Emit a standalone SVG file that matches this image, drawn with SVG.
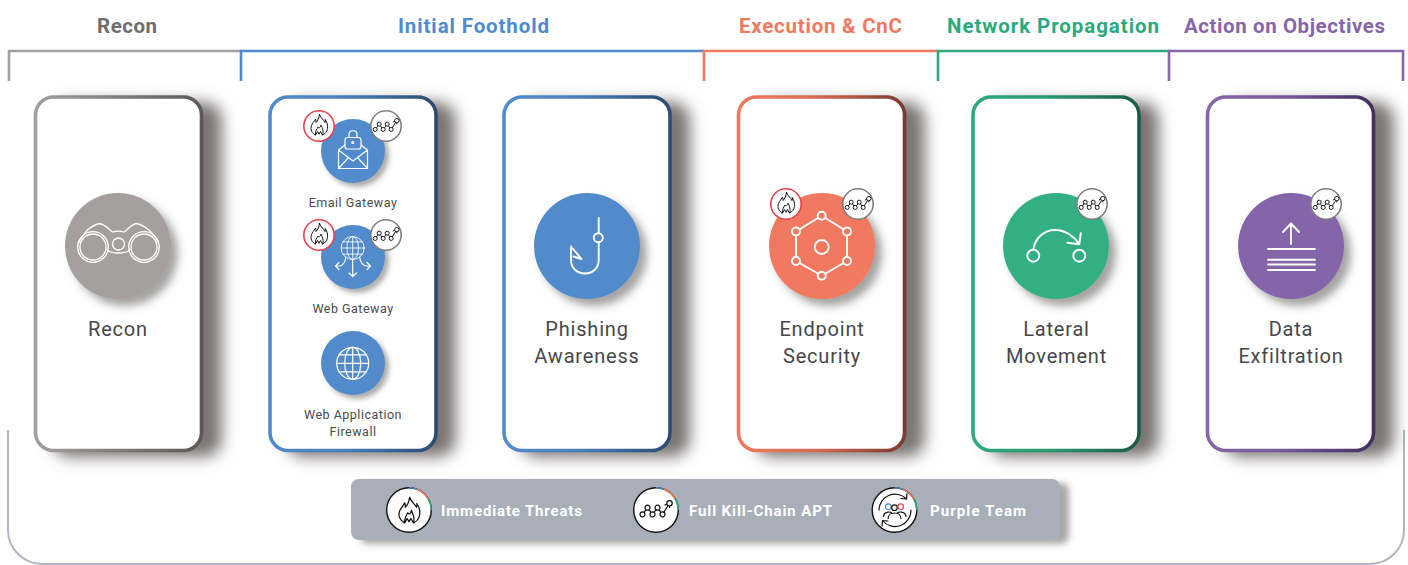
<svg xmlns="http://www.w3.org/2000/svg" width="1408" height="565" viewBox="0 0 1408 565">
<style>
text{font-family:"Roboto","Liberation Sans",sans-serif}
.h{font-size:20.5px;font-weight:700;text-anchor:middle}
.t{font-size:20px;font-weight:400;fill:#47474a;text-anchor:middle;letter-spacing:.8px}
.s{font-size:12.500px;fill:#4a4a4c;text-anchor:middle;letter-spacing:.5px}
.l{font-size:15px;font-weight:700;fill:#fff}
.br{fill:none;stroke-width:2.600}
.card{fill:#fff;stroke-width:3.600}
.csh{fill:#7a7573;filter:url(#blur)}
.circ{filter:url(#cs)}
.sm{filter:url(#css)}
.ic{fill:none;stroke:#fff;stroke-width:1.900;stroke-linecap:round;stroke-linejoin:round}
.thin{stroke-width:1.200}
.k{fill:none;stroke:#111;stroke-width:1.200;stroke-linecap:round;stroke-linejoin:round}
.bg{fill:#fff;stroke-width:1.600}
</style>
<defs>
<filter id="blur" x="-30%" y="-20%" width="160%" height="140%"><feGaussianBlur stdDeviation="7.500"/></filter>
<filter id="cs" x="-30%" y="-30%" width="170%" height="170%"><feDropShadow dx="7" dy="7" stdDeviation="4" flood-color="#4a4543" flood-opacity=".5"/></filter>
<filter id="css" x="-30%" y="-30%" width="170%" height="170%"><feDropShadow dx="4" dy="4" stdDeviation="2.500" flood-color="#4a4543" flood-opacity=".45"/></filter>
<filter id="ls" x="-5%" y="-30%" width="110%" height="170%"><feDropShadow dx="9" dy="4" stdDeviation="3" flood-color="#55504e" flood-opacity=".5"/></filter>
<linearGradient id="g0"><stop offset="0" stop-color="#a3a09f"/><stop offset="1" stop-color="#5c5856"/></linearGradient>
<linearGradient id="g1"><stop offset="0" stop-color="#518bcb"/><stop offset=".45" stop-color="#4a7fb9"/><stop offset="1" stop-color="#2c4a72"/></linearGradient>
<linearGradient id="g2"><stop offset="0" stop-color="#f0795f"/><stop offset=".45" stop-color="#d96b55"/><stop offset="1" stop-color="#7a3a2e"/></linearGradient>
<linearGradient id="g3"><stop offset="0" stop-color="#2ea97d"/><stop offset=".45" stop-color="#2a9a73"/><stop offset="1" stop-color="#1c5c47"/></linearGradient>
<linearGradient id="g4"><stop offset="0" stop-color="#8666a9"/><stop offset=".45" stop-color="#755a99"/><stop offset="1" stop-color="#422f5e"/></linearGradient>
<g id="flame"><path class="k" style="stroke-width:1" d="M0.500-11C2-7 4.500-6 6-3C6.500-4 6.500-5 6.200-6C8-3.500 9 0 8.500 3C8 6 6 8.500 3.500 9.500C5 6 3.500 3 2-.5C1.500 2 0 3-1 1.500C-2 3.500-4 5.500-3.500 9.500C-7 8-9 4-7.500 0C-6.500-2.500-5-3.500-3.500-6.500C-3-5.500-2.800-4-3-3C-1-4.500 0-8 .5-11Z M-3.500 9.500L-1.500 6L0 8.500M3.500 9.500L1.500 6L0 8.500"/></g>
<g id="chain"><path class="k" d="M-13.500 4.300L-8.500-2.300L-3.500 4.300L1.500-2.300L6.500 4.300L13.500-6.700M9-5L13.500-7.500L13.500-2.500"/><g fill="#fff" stroke="#111" stroke-width="1.200"><circle cx="-13.500" cy="4.300" r="2.500"/><circle cx="-8.500" cy="-2.300" r="2.500"/><circle cx="-3.500" cy="4.300" r="2.500"/><circle cx="1.500" cy="-2.300" r="2.500"/><circle cx="6.500" cy="4.300" r="2.500"/><circle cx="13.500" cy="-6.700" r="2.700"/></g></g>
<g id="fireB"><circle class="bg" r="15.200" stroke="#e8404d"/><use href="#flame" transform="translate(0 -.5)"/></g>
<g id="chainB"><circle class="bg" r="15.200" stroke="#7f7f7f"/><use href="#chain" transform="scale(.8)"/></g>
<g id="globe"><circle r="16"/><ellipse rx="8" ry="16"/><path d="M0-16V16M-16 0H16M-13.500-8.500H13.500M-13.500 8.500H13.500"/></g>
<g id="ring"><circle r="22.300" fill="#fff" stroke="#111" stroke-width="1.400"/><path d="M0-22.300A22.300 22.300 0 0 1 8-20.800" fill="none" stroke="#518bcb" stroke-width="1.600"/><path d="M8-20.800A22.300 22.300 0 0 1 19.300-11.100" fill="none" stroke="#f0795f" stroke-width="1.600"/><path d="M19.300-11.100A22.300 22.300 0 0 1 22.300 0" fill="none" stroke="#2ea97d" stroke-width="1.600"/></g>
</defs>
<rect width="1408" height="565" fill="#fff"/>

<g id="connectors">
<path class="br" stroke="#a3a09f" d="M9 81V51H241"/>
<path class="br" stroke="#518bcb" d="M241 81V51H704"/>
<path class="br" stroke="#f0795f" d="M704 81V51H938"/>
<path class="br" stroke="#2ea97d" d="M938 81V51H1169"/>
<path class="br" stroke="#8666a9" d="M1169 81V51H1403V81"/>
<path fill="none" stroke="#aeb6c4" stroke-width="2" d="M8 430V530A34 34 0 0 0 42 564H1370A34 34 0 0 0 1404 530V430"/>
</g>

<g id="headers">
<text class="h" x="127" y="33" fill="#6d6e70" textLength="60">Recon</text>
<text class="h" x="473.500" y="33" fill="#518bcb" textLength="151">Initial Foothold</text>
<text class="h" x="820.500" y="33" fill="#f0795f" textLength="163">Execution &amp; CnC</text>
<text class="h" x="1053" y="33" fill="#2ea97d" textLength="212">Network Propagation</text>
<text class="h" x="1284.500" y="33" fill="#8666a9" textLength="201">Action on Objectives</text>
</g>

<g id="node-recon">
<rect class="csh" x="52" y="102" width="170" height="355" rx="18"/>
<rect class="card" x="35.500" y="97" width="166" height="353.500" rx="18" stroke="url(#g0)"/>
<circle class="circ" cx="118" cy="246" r="53" fill="#a5a09e"/>
<g class="ic" style="stroke-width:1.300"><circle cx="93" cy="247" r="15.300"/><circle cx="93" cy="247" r="13"/><circle cx="144" cy="247" r="15.300"/><circle cx="144" cy="247" r="13"/><circle cx="118.500" cy="244" r="6"/><path d="M78.500 243C83 233 91 225 100 223.500C106 225 110 231 113 232C116 231 121 231 124 232C127 231 130 225 136 223.500C145 225 154 233 158.500 243M107 250C112 254 125 254 130 250"/></g>
<text class="t" x="118" y="336">Recon</text>
</g>

<g id="node-foothold-gateways">
<rect class="csh" x="286" y="102" width="170" height="355" rx="18"/>
<rect class="card" x="270" y="97" width="166" height="353.500" rx="18" stroke="url(#g1)"/>
<g id="email-gateway">
<circle class="sm" cx="353" cy="151" r="32" fill="#518bcb"/>
<g class="ic thin"><path d="M345 145L338.500 150V168.500H367.500V150L361 145M338.500 150L353 161L367.500 150M338.500 168.500L348 158M367.500 168.500L358 158"/><rect x="345" y="137.500" width="16" height="11.500" rx="2.500" fill="#518bcb"/><path d="M349 137.500V134.500C349 129.500 357 129.500 357 134.500V137.500"/><circle cx="352.800" cy="142.500" r="1"/></g>
<use href="#fireB" x="319" y="126"/><use href="#chainB" x="386" y="126"/>
<text class="s" x="353" y="207">Email Gateway</text>
</g>
<g id="web-gateway">
<circle class="sm" cx="353" cy="257" r="32" fill="#518bcb"/>
<use class="ic thin" href="#globe" transform="translate(352.700 248) scale(.72)"/>
<path class="ic thin" d="M352.700 260V276.500M349 273L352.700 276.500L356.500 273M346 257C345 263 343 266 339 266H335.500M339 262.500L335.500 266L339 269.500M359.500 257C360.500 263 363 266 367 266H370.500M367 262.500L370.500 266L367 269.500"/>
<use href="#fireB" x="319" y="235"/><use href="#chainB" x="386" y="235"/>
<text class="s" x="353" y="313">Web Gateway</text>
</g>
<g id="waf">
<circle class="sm" cx="353" cy="363" r="32" fill="#518bcb"/>
<use class="ic thin" href="#globe" transform="translate(352.700 363.300)"/>
<text class="s" x="353" y="419">Web Application</text>
<text class="s" x="353" y="436">Firewall</text>
</g>
</g>

<g id="node-phishing">
<rect class="csh" x="520" y="102" width="170" height="355" rx="18"/>
<rect class="card" x="504" y="97" width="166" height="353.500" rx="18" stroke="url(#g1)"/>
<circle class="circ" cx="587" cy="246" r="53" fill="#518bcb"/>
<g class="ic"><path d="M598.700 218V233M598.700 242V260C598.700 268 593 273.500 585 273.500C577 273.500 571 268 571 260V246.500L581.500 259L573.500 256.500"/><circle cx="598.300" cy="237.700" r="4.500"/></g>
<text class="t" x="587" y="336">Phishing</text><text class="t" x="587" y="363">Awareness</text>
</g>

<g id="node-endpoint">
<rect class="csh" x="755" y="102" width="170" height="355" rx="18"/>
<rect class="card" x="738.500" y="97" width="166" height="353.500" rx="18" stroke="url(#g2)"/>
<circle class="circ" cx="822" cy="246" r="53" fill="#f0795f"/>
<g class="ic"><path d="M821.700 215.700L847 231.500V261L821.700 275.700L796 261V231.500Z"/></g>
<g fill="#f0795f" stroke="#fff" stroke-width="1.900"><circle cx="821.700" cy="215.700" r="4"/><circle cx="847" cy="231.500" r="4"/><circle cx="847" cy="261" r="4"/><circle cx="821.700" cy="275.700" r="4"/><circle cx="796" cy="261" r="4"/><circle cx="796" cy="231.500" r="4"/><circle cx="821.700" cy="247" r="7"/></g>
<use href="#fireB" x="786" y="204"/><use href="#chainB" x="858" y="204"/>
<text class="t" x="822" y="336">Endpoint</text><text class="t" x="822" y="363">Security</text>
</g>

<g id="node-lateral">
<rect class="csh" x="989" y="102" width="170" height="355" rx="18"/>
<rect class="card" x="973" y="97" width="166" height="353.500" rx="18" stroke="url(#g3)"/>
<circle class="circ" cx="1056" cy="246" r="53" fill="#33b083"/>
<g class="ic"><circle cx="1033.300" cy="255.700" r="6"/><circle cx="1079.300" cy="255.700" r="6"/><path d="M1033.300 249.500C1035 238 1044 230 1055 230C1065 230 1074 236 1079.300 244.300M1067.300 242.700L1079.300 244.300L1080.700 233.300"/></g>
<use href="#chainB" x="1092" y="204"/>
<text class="t" x="1056.500" y="336">Lateral</text><text class="t" x="1056.500" y="363">Movement</text>
</g>

<g id="node-exfiltration">
<rect class="csh" x="1224" y="102" width="170" height="355" rx="18"/>
<rect class="card" x="1207.500" y="97" width="166" height="353.500" rx="18" stroke="url(#g4)"/>
<circle class="circ" cx="1291" cy="246" r="53" fill="#8565a9"/>
<g class="ic"><path d="M1291 223.500V244M1283 232L1291 223.500L1299 232M1268 249H1315M1268 259.700H1315M1268 264.500H1315M1268 270H1315"/></g>
<use href="#chainB" x="1326" y="204"/>
<text class="t" x="1291" y="336">Data</text><text class="t" x="1291" y="363">Exfiltration</text>
</g>

<g id="legend">
<rect x="351" y="479" width="709" height="61" rx="8" fill="#a9afb9" filter="url(#ls)"/>
<g id="legend-immediate"><use href="#ring" x="409" y="510"/><use href="#flame" transform="translate(409 511) scale(1.250)"/><text class="l" x="441" y="515.500" textLength="141">Immediate Threats</text></g>
<g id="legend-apt"><use href="#ring" x="656" y="510"/><use href="#chain" x="656" y="510"/><text class="l" x="689" y="515.500" textLength="143">Full Kill-Chain APT</text></g>
<g id="legend-purple"><use href="#ring" x="894.500" y="510"/>
<path class="k" d="M879 510A16 16 0 0 1 906.500 499M906.500 499L907 493.500M906.500 499L901 498.500M911 510A16 16 0 0 1 882.500 520.500M882.500 520.500L882 526M882.500 520.500L888 521"/>
<path d="M883.500 517C883.500 511 892 511 892 514M906 517C906 511 897 511 897 514M888 519C888 511 901 511 901 519" fill="none" stroke="#111" stroke-width="1.200"/>
<circle cx="888.300" cy="506.700" r="2.800" fill="none" stroke="#518bcb" stroke-width="1.200"/><circle cx="894.500" cy="507.700" r="2.800" fill="none" stroke="#111" stroke-width="1.200"/><circle cx="900.700" cy="506.700" r="2.800" fill="none" stroke="#e8404d" stroke-width="1.200"/>
<text class="l" x="930" y="515.500" textLength="96">Purple Team</text></g>
</g>
</svg>
